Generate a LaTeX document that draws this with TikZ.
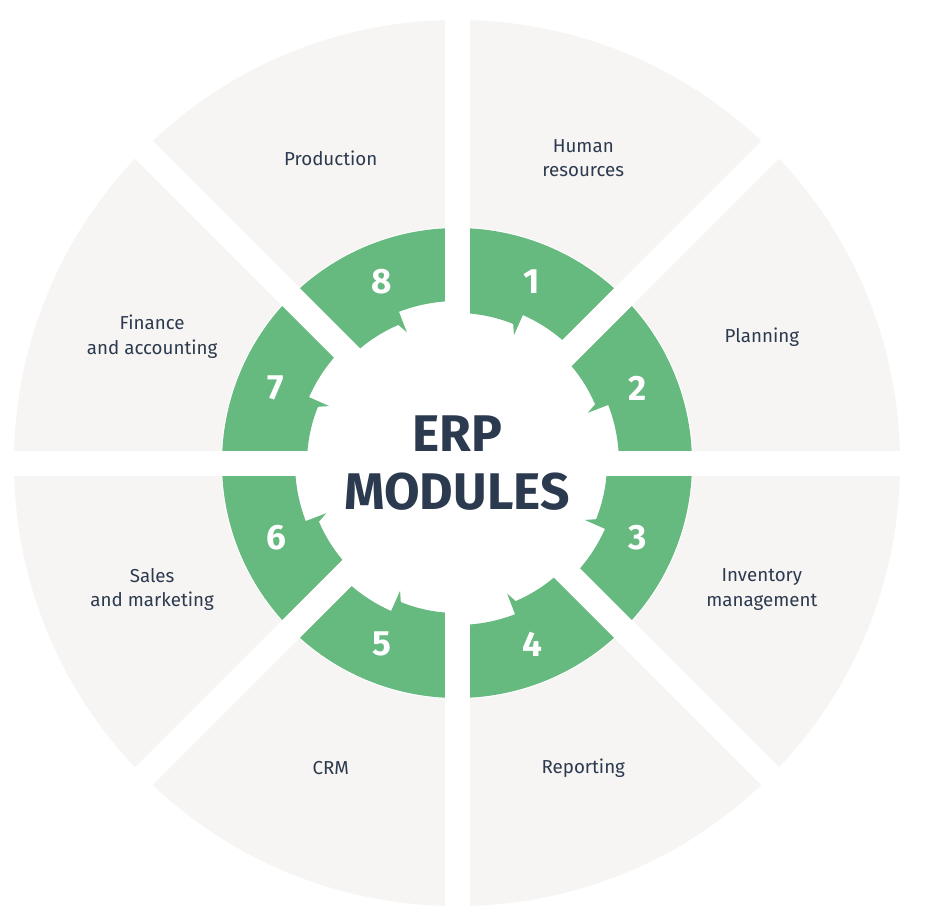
\documentclass[tikz,border=0pt]{standalone}
\usepackage{fontspec}
\setmainfont{Fira Sans}
\definecolor{erpgreen}{HTML}{66B97F}
\definecolor{erpgray}{HTML}{F7F5F3}
\definecolor{erptext}{HTML}{2B3A4E}
\begin{document}
\begin{tikzpicture}[x=0.03cm,y=0.03cm,
    every node/.style={font=\fontsize{16}{21}\selectfont,text=erptext,align=center},
    num/.style={font=\fontsize{30}{34}\selectfont\bfseries,text=white},
    gap/.style={draw=white,line width=0.75cm}]
  \useasboundingbox[fill=white] (0,0) rectangle (930,-912);
  \begin{scope}[shift={(457,-463)}]
    \fill[erpgray] (0,0) circle (443);
    \fill[white] (0,0) circle (236);
    % green ring pieces
    \foreach \k in {1,...,8}{
      \pgfmathsetmacro{\s}{90-45*\k}
      \fill[erpgreen] (\s:235) arc[start angle=\s,end angle=\s+45,radius=235]
        -- (\s+45:150) arc[start angle=\s+45,end angle=\s+23,radius=150]
        -- (\s+21:140) -- (\s+21:162) arc[start angle=\s+21,end angle=\s,radius=162] -- cycle;
    }
    \foreach \a in {0,45,90,135}
      \draw[gap] (\a:460) -- (\a+180:460);
    % numbers and labels
    \foreach \k/\txt in {1/Human\\resources,2/Planning,3/Inventory\\management,4/Reporting,
                         5/CRM,6/Sales\\and marketing,7/Finance\\and accounting,8/Production}{
      \pgfmathsetmacro{\m}{90-45*\k+22.5}
      \node[num] (n\k) at (\m:196) {\k};
      \node (l\k) at (\m:330) {\txt};
    }
    \node[font=\fontsize{44}{50}\selectfont\bfseries] (erp) at (0,0) {ERP\\MODULES};
  \end{scope}
\end{tikzpicture}
\end{document}
